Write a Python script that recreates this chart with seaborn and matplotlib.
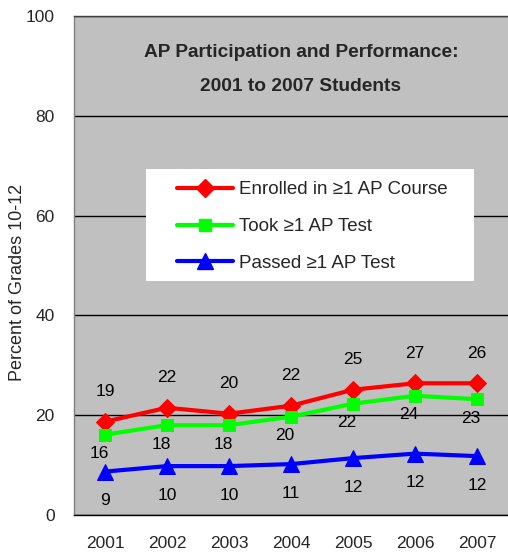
import matplotlib
matplotlib.use("Agg")
import matplotlib.pyplot as plt
import seaborn as sns
import pandas as pd
from matplotlib.patches import Rectangle
from matplotlib.lines import Line2D

years = ["2001", "2002", "2003", "2004", "2005", "2006", "2007"]
enrolled = [18.7, 21.5, 20.3, 21.9, 25.1, 26.4, 26.4]
took = [16.1, 18.0, 18.0, 19.7, 22.3, 23.9, 23.2]
passed = [8.7, 9.8, 9.8, 10.2, 11.4, 12.3, 11.8]
enrolled_lbl = [19, 22, 20, 22, 25, 27, 26]
took_lbl = [16, 18, 18, 20, 22, 24, 23]
passed_lbl = [9, 10, 10, 11, 12, 12, 12]
series_names = ["Enrolled in \u22651 AP Course", "Took \u22651 AP Test", "Passed \u22651 AP Test"]
colors = ["#FF0000", "#00FF00", "#0000FF"]
markers = ["D", "s", "^"]

sns.set_theme(style="white")
plt.rcParams["font.family"] = ["Liberation Sans", "DejaVu Sans"]

fig = plt.figure(figsize=(5.08, 5.54), dpi=100)
ax = fig.add_axes([74/508, 39/554, 434/508, 499/554])
ax.set_facecolor("#C0C0C0")

idx = list(range(len(years)))
all_vals = [enrolled, took, passed]
all_lbls = [enrolled_lbl, took_lbl, passed_lbl]
msizes = [9, 9, 11]
for name, vals, c, m, ms in zip(series_names, all_vals, colors, markers, msizes):
    sns.lineplot(x=idx, y=vals, ax=ax, color=c, marker=m, markersize=ms,
                 markeredgecolor=c, linewidth=3, zorder=4, legend=False)

offsets = [(0, 30), (-6, -19), (0, -29)]
for vals, lbls, (dx, dy) in zip(all_vals, all_lbls, offsets):
    for i, (v, l) in enumerate(zip(vals, lbls)):
        ax.annotate(str(l), (i, v), xytext=(dx, dy), textcoords="offset pixels",
                    ha="center", va="center", fontsize=12.5, color="black", zorder=5)

ax.set_xlim(-0.5, 6.5)
ax.set_ylim(0, 100)
ax.set_yticks([0, 20, 40, 60, 80, 100])
ax.set_xticks(idx)
ax.set_xticklabels(years)
ax.set_xticks([i - 0.5 for i in range(8)], minor=True)
ax.tick_params(axis="x", which="major", length=0, pad=15, labelsize=12.5)
ax.tick_params(axis="x", which="minor", length=6, width=1, color="black", direction="out")
ax.tick_params(axis="y", which="major", length=6, width=1, color="black", direction="out",
               pad=8, labelsize=12.5)
ax.yaxis.grid(True, color="black", linewidth=1)
ax.xaxis.grid(False)
ax.set_axisbelow(True)
ax.spines["left"].set_color("#808080")
ax.spines["top"].set_color("#404040")
ax.spines["bottom"].set_color("black")
ax.spines["right"].set_visible(False)
for s in ax.spines.values():
    s.set_linewidth(1)

ax.set_ylabel("Percent of Grades 10-12", fontsize=13)
ax.yaxis.set_label_coords(-0.11, 0.467)
ax.set_xlabel("")

ax.text(0.523, 0.926, "AP Participation and Performance:", transform=ax.transAxes,
        ha="center", va="center", fontsize=13.8, fontweight="bold")
ax.text(0.523, 0.858, "2001 to 2007 Students", transform=ax.transAxes,
        ha="center", va="center", fontsize=13.8, fontweight="bold")

ax.add_patch(Rectangle((0.166, 0.469), 0.756, 0.224, transform=ax.transAxes,
                       facecolor="white", edgecolor="none", zorder=2))
handles = [Line2D([], [], color=c, marker=m, markersize=ms, linewidth=3, markeredgecolor=c)
           for c, m, ms in zip(colors, markers, msizes)]
leg = ax.legend(handles, series_names, loc="upper left", bbox_to_anchor=(0.2373, 0.669),
                frameon=False, borderaxespad=0, borderpad=0, fontsize=13.5,
                handlelength=3.0, handletextpad=0.3, labelspacing=1.05)

fig.savefig("out.png", dpi=100)
